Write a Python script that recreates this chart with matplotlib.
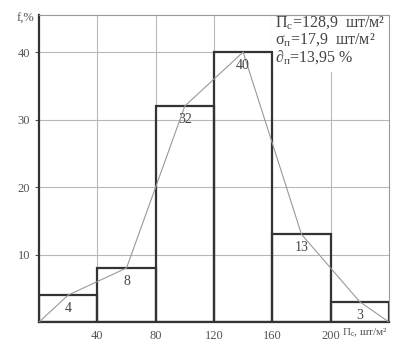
import numpy as np
import matplotlib
matplotlib.use("Agg")
import matplotlib.pyplot as plt
from matplotlib.patches import Rectangle

plt.rcParams['font.family'] = ['Liberation Serif', 'DejaVu Serif']
plt.rcParams['mathtext.fontset'] = 'custom'
plt.rcParams['mathtext.rm'] = 'Liberation Serif'
plt.rcParams['mathtext.it'] = 'Liberation Serif:italic'

# interval edges and frequencies, %
edges = [0, 40, 80, 120, 160, 200, 240]
freq = [4, 8, 32, 40, 13, 3]
bar_labels = ['4', '8', '32', '40', '13', '3']
xticks = [40, 80, 120, 160, 200]
yticks = [10, 20, 30, 40]
stats = [r'П$_{\rm с}$=128,9  шт/м²',
         r'σ$_{\rm п}$=17,9  шт/м²',
         r'∂$_{\rm п}$=13,95 %']

fig = plt.figure(figsize=(4.2, 3.47), dpi=100)
ax = fig.add_axes([0.093, 0.072, 0.833, 0.885])

ax.set_xlim(0, 240)
ax.set_ylim(0, 45.5)
ax.set_xticks(xticks)
ax.set_yticks(yticks)
ax.grid(True, color='#b8b8b8', linewidth=0.8)
ax.set_axisbelow(True)

left = np.array(edges[:-1])
width = np.diff(edges)
mids = left + width / 2
ax.bar(left, freq, width=width, align='edge', facecolor='none',
       edgecolor='#333333', linewidth=1.6, zorder=3)

# frequency polygon
px = np.concatenate([[edges[0]], mids, [edges[-1]]])
py = np.concatenate([[0], freq, [0]])
ax.plot(px, py, color='#999999', linewidth=0.8, zorder=4)

for m, v, s in zip(mids, freq, bar_labels):
    ax.annotate(s, (m, v), xytext=(0, -5), textcoords='offset points',
                ha='center', va='top', fontsize=10, color='#444444', zorder=5)

# white panel behind the statistics
ax.add_patch(Rectangle((160, 37), 80, 8.5, facecolor='white',
                       edgecolor='none', zorder=2))
for i, s in enumerate(stats):
    ax.text(162, 44.3 - 2.5 * i, s, fontsize=11.5, color='#444444',
            va='center', ha='left', zorder=5)

for side in ['top', 'right']:
    ax.spines[side].set_color('#999999')
    ax.spines[side].set_linewidth(0.8)
for side in ['left', 'bottom']:
    ax.spines[side].set_color('#333333')
    ax.spines[side].set_linewidth(1.6)

ax.tick_params(axis='both', labelsize=9, colors='#555555', length=3)
ax.tick_params(axis='x', length=0, pad=6)

fig.text(0.04, 0.945, 'f,%', fontsize=9, color='#555555', ha='left', va='center')
fig.text(0.815, 0.04, r'П$_{\rm с}$, шт/м²', fontsize=8, color='#555555',
         ha='left', va='center')

fig.savefig('out.png', dpi=100)
